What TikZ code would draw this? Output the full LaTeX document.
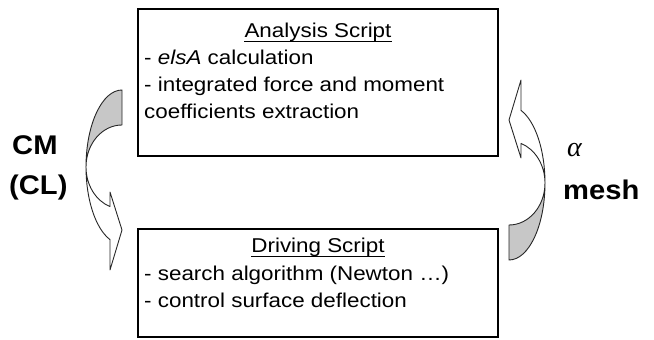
\documentclass[tikz,border=0pt]{standalone}
\usepackage{fontspec}
\setmainfont{Liberation Sans}[FakeStretch=1.12]
\newfontfamily\lblfont{Liberation Sans}[FakeStretch=1.08]
\newfontfamily\grkfont{Liberation Serif}
\begin{document}
\begin{tikzpicture}[x=1pt,y=1pt,
  box/.style={draw=black,line width=2.5pt,inner sep=0pt},
  txt/.style={inner sep=0pt,anchor=base west,font=\fontsize{20}{24}\selectfont},
  ttl/.style={inner sep=0pt,anchor=base,font=\fontsize{20}{24}\selectfont},
  lbl/.style={inner sep=0pt,anchor=base west,font=\lblfont\bfseries\fontsize{27}{31}\selectfont},
  back/.style={draw=black!85,line width=0.9pt,fill=black!22,line join=round},
  front/.style={draw=black!85,line width=0.9pt,fill=white,line join=round}]
\useasboundingbox (0,0) rectangle (654,340);
% boxes
\node[box,minimum width=360pt,minimum height=147pt] (top) at (318,257.5) {};
\node[box,minimum width=360pt,minimum height=108pt] (bot) at (318,57) {};
% top box text
\node[ttl] (t1) at (318,302) {Analysis Script};
\draw[line width=1pt] ([yshift=-3.5pt]t1.base west) -- ([yshift=-3.5pt]t1.base east);
\node[txt] (t2) at (144,275) {- \textit{elsA} calculation};
\node[txt] (t3) at (144,248) {- integrated force and moment};
\node[txt] (t4) at (144,221) {coefficients extraction};
% bottom box text
\node[ttl] (b1) at (318,87) {Driving Script};
\draw[line width=1pt] ([yshift=-3.5pt]b1.base west) -- ([yshift=-3.5pt]b1.base east);
\node[txt] (b2) at (144,59) {- search algorithm (Newton …)};
\node[txt] (b3) at (144,32) {- control surface deflection};
% side labels
\node[lbl] (cm) at (12,185) {CM};
\node[lbl] (cl) at (9,145) {(CL)};
\node[inner sep=0pt,anchor=base west,font=\grkfont\itshape\fontsize{28}{32}\selectfont] (al) at (567,183) {α};
\node[lbl] (me) at (563,140) {mesh};
% left curved arrow
\begin{scope}[shift={(122,173)}]
\path[back] (0,77) arc[start angle=90,end angle=180,x radius=36,y radius=77]
  arc[start angle=180,end angle=90,x radius=36,y radius=42] -- cycle;
\path[front] (-36,0) arc[start angle=180,end angle=250.53,x radius=36,y radius=77]
  -- (-12,-103) -- (0,-63) -- (-12,-25) -- (-12,-39.6)
  arc[start angle=250.53,end angle=180,x radius=36,y radius=42] -- cycle;
\end{scope}
% right curved arrow
\begin{scope}[shift={(509,157)},rotate=180]
\path[back] (0,77) arc[start angle=90,end angle=180,x radius=36,y radius=77]
  arc[start angle=180,end angle=90,x radius=36,y radius=42] -- cycle;
\path[front] (-36,0) arc[start angle=180,end angle=250.53,x radius=36,y radius=77]
  -- (-12,-103) -- (0,-63) -- (-12,-25) -- (-12,-39.6)
  arc[start angle=250.53,end angle=180,x radius=36,y radius=42] -- cycle;
\end{scope}
\end{tikzpicture}
\end{document}
